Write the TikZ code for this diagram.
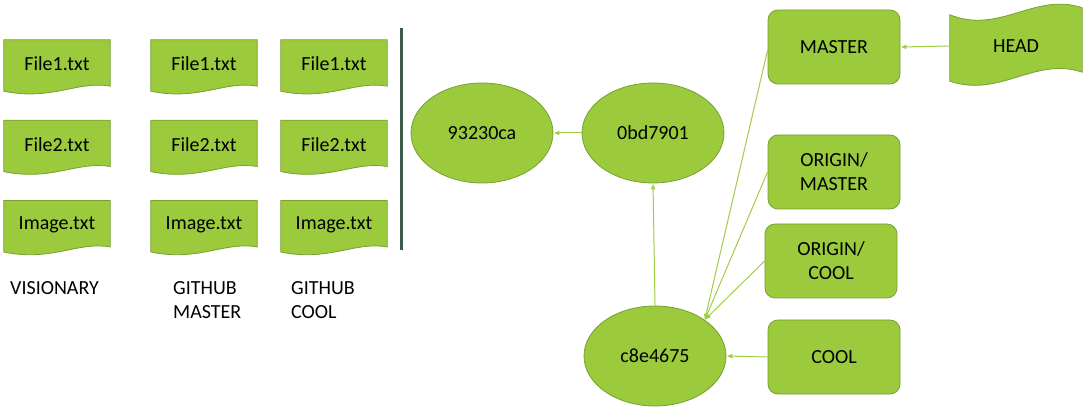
\documentclass[tikz,border=0pt]{standalone}
\usepackage{fontspec}
\setmainfont{Carlito}
\usepackage{xcolor}
\usepackage{tikz}
\usetikzlibrary{shapes.geometric, arrows}
\usetikzlibrary{positioning, arrows.meta}
\usetikzlibrary{calc}

\definecolor{leaf}{RGB}{155,203,60}
\definecolor{leafline}{RGB}{118,160,48}
\definecolor{linkline}{RGB}{160,205,70}
\definecolor{slate}{RGB}{62,92,76}

\pgfdeclarelayer{bg}
\pgfsetlayers{bg,main}

\begin{document}
\begin{tikzpicture}[
        x=1pt, y=-1pt,
        every node/.style={font=\fontsize{20}{24}\selectfont, text=black},
        docbox/.style={rectangle, minimum width=106pt, minimum height=48pt, inner sep=0pt},
        tapebox/.style={rectangle, minimum width=132pt, minimum height=64pt, inner sep=0pt},
        refbox/.style={rectangle, rounded corners=10pt, minimum width=132pt, minimum height=74pt, align=center, draw=leafline, fill=leaf, line width=0.8pt},
        commit/.style={ellipse, minimum width=142pt, minimum height=100pt, draw=leafline, fill=leaf, line width=0.8pt},
        paint/.style={draw=leafline, fill=leaf, line width=0.8pt},
        caption/.style={align=left, anchor=north west, inner sep=0pt},
        arrow/.style={linkline, line width=1pt, -{Latex[length=6pt, width=5pt]}}
    ]
        \useasboundingbox (0,0) rectangle (1089,419);

        % ===== 文件列 =====
        \node (vis1) [docbox] at (57,64) {File1.txt};
        \node (vis2) [docbox, below=32pt of vis1] {File2.txt};
        \node (vis3) [docbox, below=32pt of vis2] {Image.txt};
        \node (gm1) [docbox] at (204,64) {File1.txt};
        \node (gm2) [docbox, below=32pt of gm1] {File2.txt};
        \node (gm3) [docbox, below=32pt of gm2] {Image.txt};
        \node (gc1) [docbox] at (334,64) {File1.txt};
        \node (gc2) [docbox, below=32pt of gc1] {File2.txt};
        \node (gc3) [docbox, below=32pt of gc2] {Image.txt};

        \begin{pgfonlayer}{bg}
            \foreach \d in {vis1,vis2,vis3,gm1,gm2,gm3,gc1,gc2,gc3}
                \draw[paint] (\d.north west) -- (\d.north east) -- ($(\d.south east)+(0,-2)$)
                    .. controls +(-32,-6) and +(48,10) .. ($(\d.south west)+(0,3)$) -- cycle;
        \end{pgfonlayer}

        \node (visname) [caption] at (10,281) {VISIONARY};
        \node (gmname) [caption] at (173,281) {GITHUB\\MASTER};
        \node (gcname) [caption] at (291,281) {GITHUB\\COOL};

        % ===== 分隔线 =====
        \draw [slate, line width=3pt] (401,28) -- (401,250);

        % ===== 提交 =====
        \node (c93) [commit] at (482,133) {93230ca};
        \node (c0b) [commit] at (653,133) {0bd7901};
        \node (c8e) [commit] at (655,356) {c8e4675};

        % ===== 引用 =====
        \node (master) [refbox] at (834,47) {MASTER};
        \node (omaster) [refbox] at (834,172) {ORIGIN/\\MASTER};
        \node (ocool) [refbox] at (831,261) {ORIGIN/\\COOL};
        \node (cool) [refbox] at (834,357) {COOL};
        \node (head) [tapebox] at (1016,46) {HEAD};

        \begin{pgfonlayer}{bg}
            \draw[paint] ($(head.north west)+(0,1)$) .. controls +(50,20) and +(-47,-16) .. ($(head.north east)+(0,-6)$)
                -- ($(head.south east)+(0,-6)$) .. controls +(-47,-16) and +(50,17) .. ($(head.south west)+(0,3)$) -- cycle;
        \end{pgfonlayer}

        % ===== 箭头连接 =====
        \coordinate (hit) at (c8e.36);
        \draw [arrow] (head.west) -- (master.east);
        \draw [arrow] (c0b.west) -- (c93.east);
        \draw [arrow] (c8e.north) -- (c0b.south);
        \draw [arrow] (cool.west) -- (c8e.east);
        \draw [arrow] ($(master.west)+(0,3)$) -- (hit);
        \draw [arrow] (omaster.west) -- (hit);
        \draw [arrow] (ocool.west) -- (hit);

    \end{tikzpicture}
\end{document}
